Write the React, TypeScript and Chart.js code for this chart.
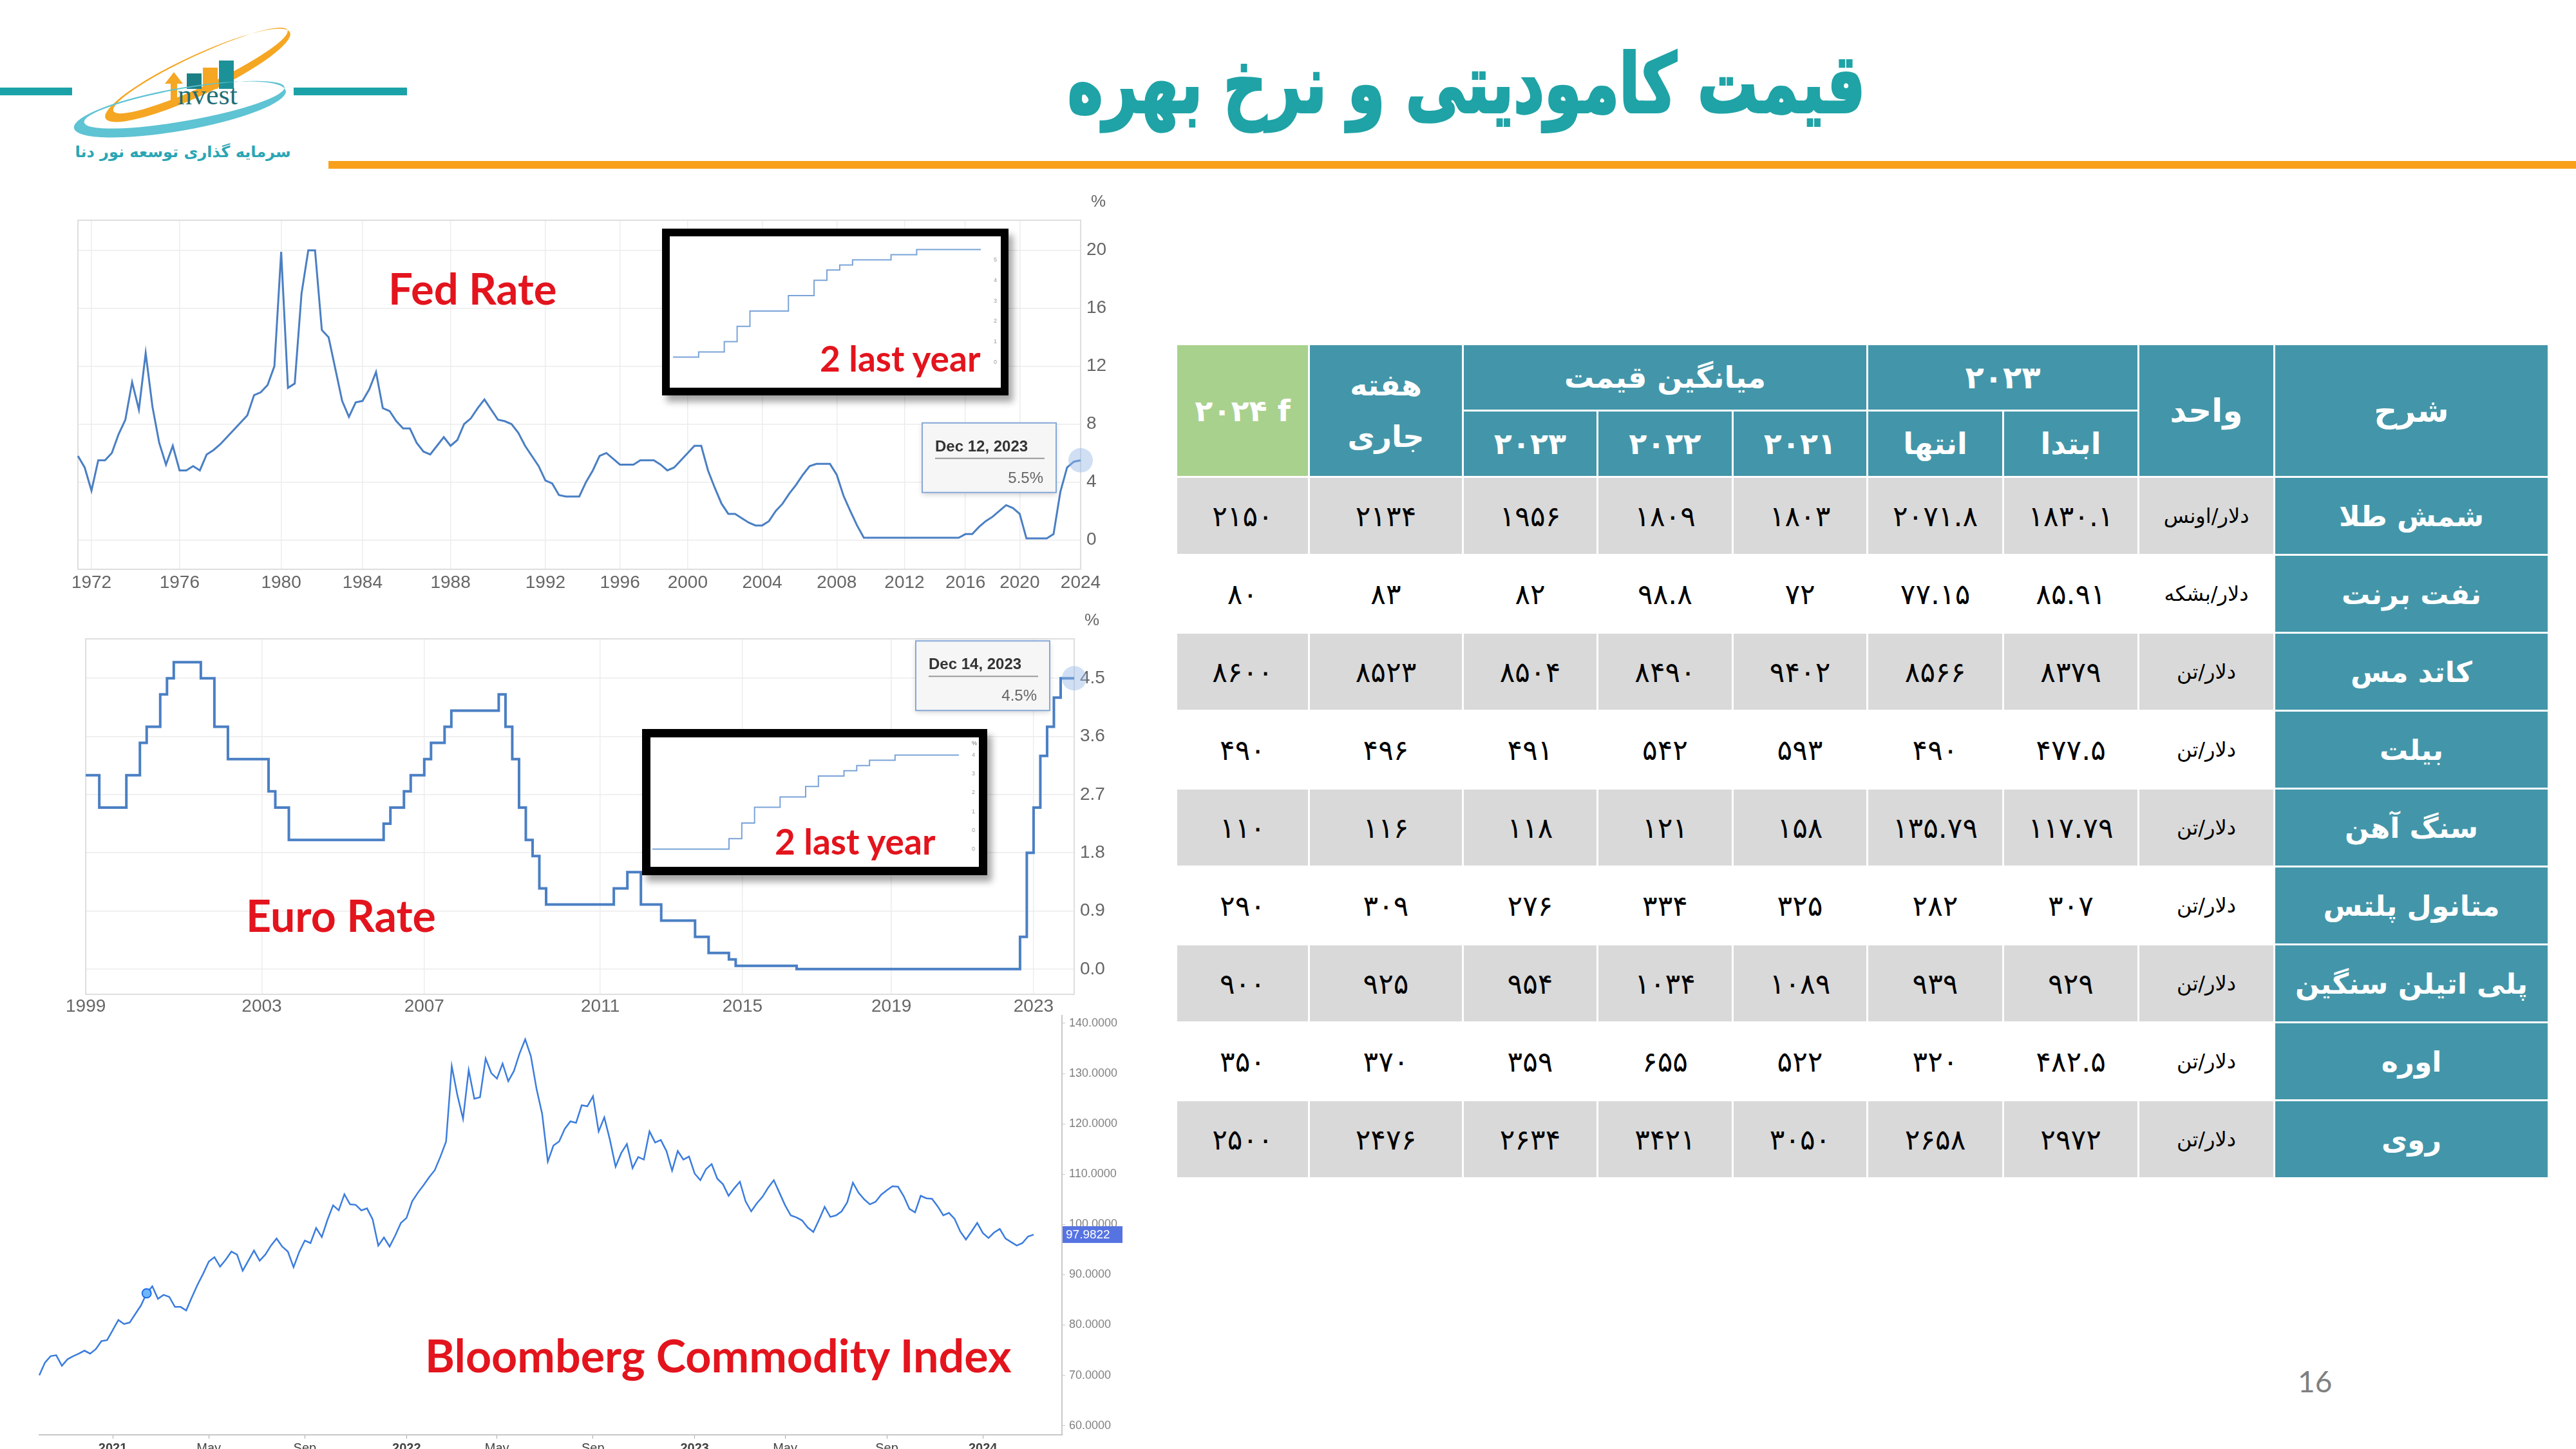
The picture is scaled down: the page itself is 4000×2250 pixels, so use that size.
import React, { useEffect, useRef } from 'react';
import Chart from 'chart.js/auto';

// ---------------- Data ----------------
// Fed funds rate, sampled along the reference chart (left -> right)
const fedRate = [
  5.8, 5.0, 3.4, 5.5, 5.5, 6.0, 7.3, 8.3, 10.9, 9.0,
  12.9, 9.2, 6.7, 5.2, 6.5, 4.8, 4.8, 5.1, 4.8, 5.9,
  6.2, 6.6, 7.1, 7.6, 8.1, 8.6, 10.0, 10.2, 10.7, 12.0,
  19.9, 10.5, 10.8, 17.0, 20.0, 20.0, 14.5, 14.0, 11.8, 9.6,
  8.5, 9.5, 9.6, 10.4, 11.6, 9.1, 8.9, 8.2, 7.7, 7.7,
  6.7, 6.1, 5.9, 6.5, 7.1, 6.5, 6.9, 8.0, 8.4, 9.1,
  9.7, 9.0, 8.3, 8.2, 8.0, 7.4, 6.5, 5.8, 5.1, 4.1,
  3.9, 3.1, 3.0, 3.0, 3.0, 4.0, 4.8, 5.8, 6.0, 5.6,
  5.2, 5.2, 5.2, 5.5, 5.5, 5.5, 5.2, 4.8, 5.0, 5.5,
  6.0, 6.5, 6.5, 4.8, 3.6, 2.5, 1.8, 1.8, 1.5, 1.2,
  1.0, 1.0, 1.3, 2.0, 2.5, 3.2, 3.8, 4.5, 5.1, 5.25,
  5.25, 5.25, 4.5, 3.05, 2.0, 1.0, 0.15, 0.15, 0.15, 0.15,
  0.15, 0.15, 0.15, 0.15, 0.15, 0.15, 0.15, 0.15, 0.15, 0.15,
  0.15, 0.4, 0.4, 0.9, 1.3, 1.6, 2.0, 2.4, 2.2, 1.8,
  0.1, 0.1, 0.1, 0.1, 0.4, 3.3, 5.0, 5.4, 5.5,
];
const fedTickYears = ['1972', '1976', '1980', '1984', '1988', '1992', '1996', '2000', '2004', '2008', '2012', '2016', '2020', '2024'];
const fedTickIndex = [2, 15, 30, 42, 55, 69, 80, 90, 101, 112, 122, 131, 139, 148];
const fedYTicks = [0, 4, 8, 12, 16, 20];
const fedLastDate = 'Dec 12, 2023';

// ECB rate
const euroRate = [
  3.0, 3.0, 2.5, 2.5, 2.5, 2.5, 3.0, 3.0, 3.5, 3.75,
  3.75, 4.25, 4.5, 4.75, 4.75, 4.75, 4.75, 4.5, 4.5, 3.75,
  3.75, 3.25, 3.25, 3.25, 3.25, 3.25, 3.25, 2.75, 2.5, 2.5,
  2.0, 2.0, 2.0, 2.0, 2.0, 2.0, 2.0, 2.0, 2.0, 2.0,
  2.0, 2.0, 2.0, 2.0, 2.25, 2.5, 2.5, 2.75, 3.0, 3.0,
  3.25, 3.5, 3.5, 3.75, 4.0, 4.0, 4.0, 4.0, 4.0, 4.0,
  4.0, 4.25, 3.75, 3.25, 2.5, 2.0, 1.75, 1.25, 1.0, 1.0,
  1.0, 1.0, 1.0, 1.0, 1.0, 1.0, 1.0, 1.0, 1.25, 1.25,
  1.5, 1.5, 1.0, 1.0, 1.0, 0.75, 0.75, 0.75, 0.75, 0.75,
  0.5, 0.5, 0.25, 0.25, 0.25, 0.15, 0.05, 0.05, 0.05, 0.05,
  0.05, 0.05, 0.05, 0.05, 0.05, 0, 0, 0, 0, 0,
  0, 0, 0, 0, 0, 0, 0, 0, 0, 0,
  0, 0, 0, 0, 0, 0, 0, 0, 0, 0,
  0, 0, 0, 0, 0, 0, 0, 0, 0.5, 1.8,
  2.5, 3.3, 3.75, 4.2, 4.5, 4.5, 4.5,
];
const euroTickYears = ['1999', '2003', '2007', '2011', '2015', '2019', '2023'];
const euroTickIndex = [0, 26, 50, 76, 97, 119, 140];
const euroYTicks = [0, 0.9, 1.8, 2.7, 3.6, 4.5];
const euroLastDate = 'Dec 14, 2023';

// "2 last year" insets (monthly)
const insetMonths = ['Dec 2021', 'Jan 2022', 'Feb 2022', 'Mar 2022', 'Apr 2022', 'May 2022', 'Jun 2022', 'Jul 2022', 'Aug 2022', 'Sep 2022', 'Oct 2022', 'Nov 2022', 'Dec 2022', 'Jan 2023', 'Feb 2023', 'Mar 2023', 'Apr 2023', 'May 2023', 'Jun 2023', 'Jul 2023', 'Aug 2023', 'Sep 2023', 'Oct 2023', 'Nov 2023', 'Dec 2023'];
const fedInset = [0.25, 0.25, 0.5, 0.5, 1.0, 1.75, 2.5, 2.5, 2.5, 3.25, 3.25, 4.0, 4.5, 4.75, 5.0, 5.0, 5.0, 5.25, 5.25, 5.5, 5.5, 5.5, 5.5, 5.5, 5.5];
const euroInset = [0, 0, 0, 0, 0, 0, 0.5, 1.25, 2.0, 2.0, 2.5, 2.5, 3.0, 3.5, 3.5, 3.75, 4.0, 4.25, 4.25, 4.5, 4.5, 4.5, 4.5, 4.5, 4.5];
const fedInsetTicks = [0, 1, 2, 3, 4, 5];
const euroInsetTicks = [0, 0.9, 1.8, 2.7, 3.6, 4.5];

// Bloomberg Commodity Index (weekly, Oct 2020 - Feb 2024)
const bcomIndex = [
  70.0, 72.5, 73.8, 74.0, 71.9, 73.2, 73.8, 74.3, 74.9, 74.3,
  75.2, 76.8, 77.0, 79.0, 81.0, 80.2, 80.5, 82.2, 83.9, 86.3,
  87.7, 85.2, 86.0, 85.6, 83.6, 83.6, 82.9, 85.5, 88.0, 90.2,
  92.6, 93.5, 91.6, 93.0, 94.6, 94.0, 90.8, 92.8, 94.8, 92.8,
  94.0, 95.8, 97.2, 95.6, 94.6, 91.5, 94.5, 96.8, 96.3, 99.3,
  97.5, 100.9, 103.8, 102.8, 106.0, 104.0, 103.9, 102.8, 103.2, 101.0,
  95.8, 97.4, 95.6, 97.8, 100.3, 101.3, 104.6, 106.3, 107.8, 109.4,
  110.8, 113.5, 116.5, 131.5, 125.7, 121.0, 130.7, 125.0, 125.3, 133.0,
  130.1, 129.0, 132.0, 128.5, 130.5, 134.0, 136.8, 133.5, 127.0, 122.0,
  112.5, 115.7, 116.5, 119.0, 120.5, 120.2, 123.7, 123.5, 125.5, 118.5,
  121.3, 116.8, 111.5, 114.2, 116.0, 111.2, 113.4, 112.9, 118.5, 116.3,
  116.8, 114.6, 110.7, 114.6, 112.9, 113.5, 110.1, 108.8, 111.0, 112.0,
  109.1, 108.0, 105.7, 107.2, 108.5, 104.6, 102.6, 104.2, 105.5, 107.3,
  108.8, 106.3, 103.8, 101.8, 101.4, 100.8, 99.4, 98.5, 100.9, 103.5,
  101.5, 101.8, 102.6, 104.4, 108.3, 106.3, 105.0, 104.0, 104.5, 105.9,
  106.8, 107.6, 107.5, 105.6, 103.1, 102.4, 105.7, 105.2, 105.1, 103.6,
  101.8, 102.3, 101.1, 98.6, 97.0, 98.6, 100.3, 98.3, 97.3, 98.4,
  99.1, 97.2, 96.5, 95.8, 96.3, 97.6, 97.9822,
];
const bcomTickLabels = ['2021', 'May', 'Sep', '2022', 'May', 'Sep', '2023', 'May', 'Sep', '2024'];
const bcomTickIndex = [13, 30, 47, 65, 81, 98, 116, 132, 150, 167];
const bcomSlots = 182;
const bcomYTicks = [60, 70, 80, 90, 100, 110, 120, 130, 140];
const bcomMarkerIndex = 19;

// Table
const commodityNames = ['شمش طلا', 'نفت برنت', 'کاتد مس', 'بیلت', 'سنگ آهن', 'متانول پلتس', 'پلی اتیلن سنگین', 'اوره', 'روی'];
const commodityUnits = ['دلار/اونس', 'دلار/بشکه', 'دلار/تن', 'دلار/تن', 'دلار/تن', 'دلار/تن', 'دلار/تن', 'دلار/تن', 'دلار/تن'];
const start2023 = [1830.1, 85.91, 8379, 477.5, 117.79, 307, 929, 482.5, 2972];
const end2023 = [2071.8, 77.15, 8566, 490, 135.79, 282, 939, 320, 2658];
const avg2021 = [1803, 72, 9402, 593, 158, 325, 1089, 522, 3050];
const avg2022 = [1809, 98.8, 8490, 542, 121, 334, 1034, 655, 3421];
const avg2023 = [1956, 82, 8504, 491, 118, 276, 954, 359, 2634];
const currentWeek = [2134, 83, 8523, 496, 116, 309, 925, 370, 2476];
const forecast2024 = [2150, 80, 8600, 490, 110, 290, 900, 350, 2500];
const subHeaders = ['ابتدا', 'انتها', '۲۰۲۱', '۲۰۲۲', '۲۰۲۳'];

// ---------------- Helpers ----------------
const FA = "'DejaVu Sans', sans-serif";
const LAT = "'Liberation Sans', Arial, sans-serif";
const toFa = (v: number) => String(v).replace(/\d/g, (d) => '۰۱۲۳۴۵۶۷۸۹'[Number(d)]);

function buildLabels(count: number, idx: number[], names: string[]) {
  const a: string[] = new Array(count).fill('');
  idx.forEach((p, j) => { a[p] = names[j]; });
  return a;
}

const fedLabels = buildLabels(fedRate.length, fedTickIndex, fedTickYears);
const euroLabels = buildLabels(euroRate.length, euroTickIndex, euroTickYears);
const bcomLabels = buildLabels(bcomSlots, bcomTickIndex, bcomTickLabels);

const framePlugin = {
  id: 'frame',
  beforeDatasetsDraw(chart: any) {
    const { ctx, chartArea: a } = chart;
    ctx.save();
    ctx.strokeStyle = '#dedede';
    ctx.lineWidth = 2;
    ctx.strokeRect(a.left, a.top, a.right - a.left, a.bottom - a.top);
    ctx.restore();
  },
};

const percentPlugin = (dx: number, dy: number, size: number) => ({
  id: 'pct',
  afterDraw(chart: any) {
    const { ctx, chartArea: a } = chart;
    ctx.save();
    ctx.fillStyle = '#666';
    ctx.font = `${size}px ${LAT}`;
    ctx.textAlign = 'left';
    ctx.textBaseline = 'middle';
    ctx.fillText('%', a.right + dx, a.top + dy);
    ctx.restore();
  },
});

const tooltipPlugin = (dateText: string) => ({
  id: 'tipbox',
  afterDraw(chart: any) {
    const { ctx } = chart;
    const ds = chart.data.datasets[0].data;
    const pt = chart.getDatasetMeta(0).data[ds.length - 1];
    const w = 208, h = 108;
    const x = pt.x - 38 - w, y = pt.y - 58;
    ctx.save();
    ctx.shadowColor = 'rgba(0,0,0,0.18)';
    ctx.shadowBlur = 8;
    ctx.shadowOffsetY = 3;
    ctx.fillStyle = '#f6f6f6';
    ctx.fillRect(x, y, w, h);
    ctx.shadowColor = 'rgba(0,0,0,0)';
    ctx.strokeStyle = '#86a8d8';
    ctx.lineWidth = 2;
    ctx.strokeRect(x, y, w, h);
    ctx.fillStyle = '#333';
    ctx.font = `bold 24px ${LAT}`;
    ctx.textAlign = 'left';
    ctx.textBaseline = 'alphabetic';
    ctx.fillText(dateText, x + 20, y + 44);
    ctx.strokeStyle = '#999';
    ctx.lineWidth = 2;
    ctx.beginPath();
    ctx.moveTo(x + 20, y + 55);
    ctx.lineTo(x + w - 18, y + 55);
    ctx.stroke();
    ctx.fillStyle = '#666';
    ctx.font = `24px ${LAT}`;
    ctx.textAlign = 'right';
    ctx.fillText(`${ds[ds.length - 1]}%`, x + w - 20, y + 93);
    ctx.restore();
  },
});

const badgePlugin = {
  id: 'badge',
  afterDraw(chart: any) {
    const { ctx, chartArea: a } = chart;
    const ds = chart.data.datasets[0].data;
    const pt = chart.getDatasetMeta(0).data[ds.length - 1];
    ctx.save();
    ctx.fillStyle = '#5673e2';
    ctx.fillRect(a.right + 1, pt.y - 13, 93, 26);
    ctx.fillStyle = '#fff';
    ctx.font = `19px ${LAT}`;
    ctx.textAlign = 'left';
    ctx.textBaseline = 'middle';
    ctx.fillText(Number(ds[ds.length - 1]).toFixed(4), a.right + 6, pt.y + 1);
    ctx.restore();
  },
};

const hidden = 'rgba(0,0,0,0)';

function makeRateChart(
  values: number[], labels: string[], yTicks: number[], min: number, max: number,
  pad: { left: number; right: number; top: number }, tickPad: number, stepped: boolean,
  lineWidth: number, fmt: (v: number) => string, dateText: string,
) {
  return {
    type: 'line',
    data: {
      labels,
      datasets: [{
        data: values,
        borderColor: '#4a7fc4',
        borderWidth: lineWidth,
        stepped,
        tension: 0,
        pointRadius: (c: any) => (c.dataIndex === values.length - 1 ? 19 : 0),
        pointBackgroundColor: 'rgba(150,185,230,0.45)',
        pointBorderWidth: 0,
      }],
    },
    options: {
      animation: false, responsive: false, devicePixelRatio: 1, events: [],
      layout: { padding: { left: pad.left, right: pad.right, top: pad.top, bottom: 0 } },
      plugins: { legend: { display: false }, tooltip: { enabled: false } },
      scales: {
        x: {
          grid: { color: (c: any) => (c.tick && c.tick.label ? '#ededed' : hidden), drawTicks: false, lineWidth: 1.5 },
          border: { display: false },
          ticks: {
            autoSkip: false, maxRotation: 0, minRotation: 0, padding: tickPad, color: '#666',
            font: { family: LAT, size: 28 },
            callback: (_v: any, i: number) => labels[i] || null,
          },
          afterFit: (s: any) => { s.height = 46; },
        },
        y: {
          position: 'right', min, max,
          afterBuildTicks: (s: any) => { s.ticks = yTicks.map((v) => ({ value: v })); },
          grid: { color: '#ececec', drawTicks: false, lineWidth: 1.5 },
          border: { display: false },
          ticks: { padding: 9, color: '#666', font: { family: LAT, size: 28 }, callback: (v: any) => fmt(Number(v)) },
          afterFit: (s: any) => { s.width = 60; },
        },
      },
    },
    plugins: [framePlugin, percentPlugin(16, -28, 26), tooltipPlugin(dateText)],
  };
}

function makeInset(values: number[], yTicks: number[], min: number, max: number, pad: any, fmt: (v: number) => string, pct: boolean) {
  return {
    type: 'line',
    data: {
      labels: insetMonths,
      datasets: [{ data: values, borderColor: '#7aa3d8', borderWidth: 2, stepped: true, pointRadius: 0 }],
    },
    options: {
      animation: false, responsive: false, devicePixelRatio: 1, events: [],
      layout: { padding: pad },
      plugins: { legend: { display: false }, tooltip: { enabled: false } },
      scales: {
        x: { display: false },
        y: {
          position: 'right', min, max,
          afterBuildTicks: (s: any) => { s.ticks = yTicks.map((v) => ({ value: v })); },
          grid: { display: false },
          border: { display: false },
          ticks: { padding: 12, color: '#9a9a9a', font: { family: LAT, size: 9 }, callback: (v: any) => fmt(Number(v)) },
          afterFit: (s: any) => { s.width = 26; },
        },
      },
    },
    plugins: pct ? [percentPlugin(20, -8, 9)] : [],
  };
}

function makeBcom() {
  return {
    type: 'line',
    data: {
      labels: bcomLabels,
      datasets: [{
        data: bcomIndex,
        borderColor: '#3b7ddd',
        borderWidth: 2.5,
        tension: 0,
        pointRadius: (c: any) => (c.dataIndex === bcomMarkerIndex ? 7 : 0),
        pointBackgroundColor: '#6fb6ff',
        pointBorderColor: '#1f6fe6',
        pointBorderWidth: 2,
      }],
    },
    options: {
      animation: false, responsive: false, devicePixelRatio: 1, events: [],
      layout: { padding: { left: 21, right: 11, top: 16, bottom: 0 } },
      plugins: { legend: { display: false }, tooltip: { enabled: false } },
      scales: {
        x: {
          grid: { drawOnChartArea: false, drawTicks: true, tickLength: 6, color: (c: any) => (c.tick && c.tick.label ? '#aaa' : hidden) },
          border: { display: true, color: '#c8c8c8', width: 2 },
          ticks: {
            autoSkip: false, maxRotation: 0, minRotation: 0, padding: 3, color: '#444',
            font: (c: any) => ({ family: LAT, size: 20, weight: c.tick && /^\d{4}$/.test(c.tick.label) ? 'bold' : 'normal' }),
            callback: (_v: any, i: number) => bcomLabels[i] || null,
          },
          afterFit: (s: any) => { s.height = 22; },
        },
        y: {
          position: 'right', min: 58.16, max: 141.56,
          afterBuildTicks: (s: any) => { s.ticks = bcomYTicks.map((v) => ({ value: v })); },
          grid: { drawOnChartArea: false, drawTicks: true, tickLength: 5, color: '#c8c8c8' },
          border: { display: true, color: '#c8c8c8', width: 2 },
          ticks: { padding: 6, color: '#808080', font: { family: LAT, size: 18 }, callback: (v: any) => Number(v).toFixed(4) },
          afterFit: (s: any) => { s.width = 100; },
        },
      },
    },
    plugins: [badgePlugin],
  };
}

function ChartCanvas({ left, top, width, height, make }: any) {
  const ref = useRef<HTMLCanvasElement>(null);
  useEffect(() => {
    const chart = new Chart(ref.current as HTMLCanvasElement, make());
    return () => chart.destroy();
  }, []);
  return (
    <canvas ref={ref} width={width} height={height}
      style={{ position: 'absolute', left, top, width, height, display: 'block' }} />
  );
}

const redText = (text: string, left: number, top: number, size: number) => (
  <div style={{ position: 'absolute', left, top, fontFamily: 'Lato', fontWeight: 700, fontSize: size, lineHeight: 1, color: '#e3141d', whiteSpace: 'nowrap' }}>{text}</div>
);

const insetBox = (left: number, top: number, w: number, h: number, b: number) => (
  <div style={{ position: 'absolute', left, top, width: w, height: h, boxSizing: 'border-box', border: `${b}px solid #000`, background: '#fff', boxShadow: '7px 10px 10px rgba(0,0,0,0.35)' }} />
);

// ---------------- Table ----------------
const TEAL = '#4396a9';
const GREEN = '#a9d18e';
const GRAY = '#d9d9d9';
const colWidths = [423, 208, 207, 208, 206, 207, 206, 236, 203];

function CommodityTable() {
  const head: React.CSSProperties = { background: TEAL, color: '#fff', fontWeight: 'bold', fontSize: 46, padding: 0, textAlign: 'center', verticalAlign: 'middle' };
  const cols = [start2023, end2023, avg2021, avg2022, avg2023, currentWeek, forecast2024];
  return (
    <table style={{ position: 'absolute', left: 1825, top: 533, width: 2134, borderCollapse: 'separate', borderSpacing: 3, tableLayout: 'fixed', direction: 'rtl', fontFamily: FA }}>
      <colgroup>{colWidths.map((w, i) => <col key={i} style={{ width: w }} />)}</colgroup>
      <tbody>
        <tr style={{ height: 100 }}>
          <td rowSpan={2} style={{ ...head, fontSize: 50 }}>شرح</td>
          <td rowSpan={2} style={{ ...head, fontSize: 50 }}>واحد</td>
          <td colSpan={2} style={{ ...head, fontSize: 48 }}>۲۰۲۳</td>
          <td colSpan={3} style={head}>میانگین قیمت</td>
          <td rowSpan={2} style={{ ...head, lineHeight: '80px' }}>هفته<br />جاری</td>
          <td rowSpan={2} style={{ ...head, background: GREEN, direction: 'ltr' }}>۲۰۲۴ f</td>
        </tr>
        <tr style={{ height: 100 }}>
          {subHeaders.map((s, i) => <td key={i} style={head}>{s}</td>)}
        </tr>
        {commodityNames.map((name, r) => {
          const bg = r % 2 === 0 ? GRAY : '#fff';
          const cell: React.CSSProperties = { background: bg, color: '#000', fontSize: 44, padding: 0, textAlign: 'center', verticalAlign: 'middle' };
          return (
            <tr key={r} style={{ height: 118 }}>
              <td style={{ ...head, fontSize: 44 }}>{name}</td>
              <td style={{ ...cell, fontSize: 32 }}>{commodityUnits[r]}</td>
              {cols.map((c, j) => <td key={j} style={cell}>{toFa(c[r])}</td>)}
            </tr>
          );
        })}
      </tbody>
    </table>
  );
}

// ---------------- Logo ----------------
const ellipsePath = (cx: number, cy: number, rx: number, ry: number) =>
  `M ${cx - rx} ${cy} A ${rx} ${ry} 0 1 0 ${cx + rx} ${cy} A ${rx} ${ry} 0 1 0 ${cx - rx} ${cy} Z`;

function Logo() {
  return (
    <>
      <div style={{ position: 'absolute', left: 0, top: 136, width: 112, height: 12, background: '#1ba2a8' }} />
      <div style={{ position: 'absolute', left: 456, top: 136, width: 176, height: 12, background: '#1ba2a8' }} />
      <svg style={{ position: 'absolute', left: 0, top: 0 }} width={640} height={260}>
        <g transform="rotate(-25 307 117)">
          <path d={ellipsePath(307, 117, 158, 31) + ' ' + ellipsePath(314, 112, 149, 24)} fill="#f5a623" fillRule="evenodd" />
        </g>
        <rect x={290} y={114} width={23} height={24} fill="#1d7f86" />
        <rect x={315} y={105} width={23} height={33} fill="#f5a623" />
        <rect x={340} y={94} width={23} height={44} fill="#1d9198" />
        <polygon points="256,130 270,112 284,130" fill="#f5a623" />
        <rect x={265} y={128} width={10} height={34} fill="#f5a623" />
        <text x={276} y={162} fontFamily="'Liberation Serif', serif" fontSize={44} fill="#1d6e76">nvest</text>
        <g transform="rotate(-10 279 168)">
          <path d={ellipsePath(279, 170, 167, 33) + ' ' + ellipsePath(287, 164, 158, 25)} fill="#5ec3d3" fillRule="evenodd" />
        </g>
      </svg>
      <div style={{ position: 'absolute', left: 116, top: 222, width: 336, textAlign: 'center', direction: 'rtl', fontFamily: FA, fontWeight: 'bold', fontSize: 24, lineHeight: '28px', color: '#2aa6b4', whiteSpace: 'nowrap' }}>سرمایه گذاری توسعه نور دنا</div>
    </>
  );
}

// ---------------- App ----------------
export default function App() {
  return (
    <div style={{ position: 'absolute', left: 0, top: 0, width: 4000, height: 2250, background: '#fff', overflow: 'hidden' }}>
      <Logo />
      <div style={{ position: 'absolute', left: 510, top: 250, width: 3490, height: 12, background: '#f8a01c' }} />
      <div style={{ position: 'absolute', left: 1400, top: 46, width: 1754, textAlign: 'center', direction: 'rtl', fontFamily: FA, fontWeight: 'bold', fontSize: 126, lineHeight: '170px', color: '#1fa3a6', whiteSpace: 'nowrap', transform: 'scaleX(0.74)', transformOrigin: '50% 50%', WebkitTextStroke: '4px #1fa3a6' }}>قیمت کامودیتی و نرخ بهره</div>

      {/* Fed rate */}
      <ChartCanvas left={100} top={290} width={1660} height={640}
        make={() => makeRateChart(fedRate, fedLabels, fedYTicks, -2.03, 22.08, { left: 21, right: 22, top: 52 }, 4, false, 3, (v) => String(v), fedLastDate)} />
      {insetBox(1028, 355, 538, 259, 12)}
      <ChartCanvas left={1040} top={367} width={514} height={235}
        make={() => makeInset(fedInset, fedInsetTicks, -0.7, 5.6, { left: 5, right: 5, top: 13, bottom: 12 }, (v) => String(v), false)} />
      {redText('2 last year', 1273, 529, 55)}
      {redText('Fed Rate', 603, 414, 67)}

      {/* Euro rate */}
      <ChartCanvas left={100} top={930} width={1660} height={660}
        make={() => makeRateChart(euroRate, euroLabels, euroYTicks, -0.39, 5.11, { left: 32, right: 32, top: 62 }, 2, true, 4, (v) => v.toFixed(1), euroLastDate)} />
      {insetBox(997, 1132, 536, 227, 13)}
      <ChartCanvas left={1010} top={1145} width={510} height={201}
        make={() => makeInset(euroInset, euroInsetTicks, -0.31, 4.81, { left: 3, right: 5, top: 15, bottom: 6 }, (v) => v.toFixed(1), true)} />
      {redText('2 last year', 1203, 1279, 55)}
      {redText('Euro Rate', 382, 1387, 68)}

      {/* Bloomberg commodity index */}
      <ChartCanvas left={40} top={1560} width={1720} height={690} make={makeBcom} />
      {redText('Bloomberg Commodity Index', 660, 2069, 70)}

      <CommodityTable />

      <div style={{ position: 'absolute', left: 3568, top: 2122, fontFamily: 'Lato', fontSize: 46, lineHeight: 1, color: '#7f7f7f' }}>16</div>
    </div>
  );
}
